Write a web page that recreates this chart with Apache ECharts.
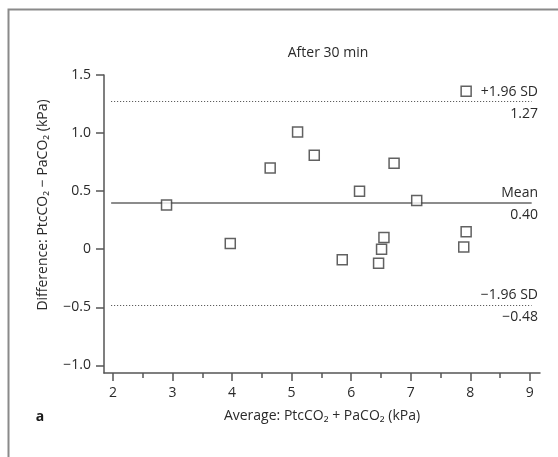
<!DOCTYPE html>
<html>
<head>
<meta charset="utf-8">
<script src="https://cdn.jsdelivr.net/npm/echarts@6/dist/echarts.min.js"></script>
<style>
  html, body { margin: 0; padding: 0; background: #fff; }
  #chart { width: 558px; height: 457px; }
</style>
</head>
<body>
<div id="chart"></div>
<script>
// Bland–Altman data: average vs difference of PtcCO2 and PaCO2 (kPa), after 30 min
const averages    = [2.90, 3.97, 4.64, 5.10, 5.38, 5.85, 6.14, 6.46, 6.51, 6.55, 6.72, 7.10, 7.89, 7.93, 7.93];
const differences = [0.38, 0.05, 0.70, 1.01, 0.81, -0.09, 0.50, -0.12, 0.00, 0.10, 0.74, 0.42, 0.02, 0.15, 1.36];

// Agreement statistics
const meanDiff   = 0.40;
const upperLimit = 1.27;
const lowerLimit = -0.48;

// Axis ticks
const xTicks      = [2, 3, 4, 5, 6, 7, 8, 9];
const xMinorTicks = [2.5, 3.5, 4.5, 5.5, 6.5, 7.5, 8.5];
const yTicks      = [-1.0, -0.5, 0, 0.5, 1.0, 1.5];

const X_MIN = 1.85, X_MAX = 9.17;
const Y_MIN = -1.066, Y_MAX = 1.5;
const LINE_START = 1.97, LINE_END = 9.03;

const FONT = '"Open Sans", "Noto Sans", sans-serif';
const FS = 14;
const TEXT = '#2a2a2a';
const AXIS = '#555';

const minus = s => s.replace('-', '\u2212');
const points = averages.map((a, i) => [a, differences[i]]);

const refLines = [
  { value: upperLimit, name: '+1.96 SD', dashed: true },
  { value: meanDiff,   name: 'Mean',     dashed: false },
  { value: lowerLimit, name: '\u22121.96 SD', dashed: true }
];

const chart = echarts.init(document.getElementById('chart'));

const baseX = {
  type: 'value', min: X_MIN, max: X_MAX, splitLine: { show: false }
};

chart.setOption({
  animation: false,
  title: {
    text: 'After 30 min',
    left: 323, top: 41, textAlign: 'center',
    textStyle: { fontFamily: FONT, fontSize: FS, fontWeight: 'normal', color: TEXT }
  },
  grid: { left: 104, right: 18, top: 75, bottom: 84 },
  xAxis: [
    Object.assign({}, baseX, {
      position: 'bottom',
      axisLine: { show: true, onZero: false, lineStyle: { color: AXIS, width: 1.5 } },
      axisTick: { show: true, customValues: xTicks, length: 8, lineStyle: { color: AXIS, width: 1.5 } },
      axisLabel: { customValues: xTicks, margin: 13, color: TEXT, fontSize: FS, fontFamily: FONT },
      name: 'Average: PtcCO\u2082 + PaCO\u2082 (kPa)',
      nameLocation: 'middle', nameGap: 36,
      nameTextStyle: { color: TEXT, fontSize: FS, fontFamily: FONT }
    }),
    Object.assign({}, baseX, {
      position: 'bottom',
      axisLine: { show: false, onZero: false },
      axisTick: { show: true, customValues: xMinorTicks, length: 5, lineStyle: { color: AXIS, width: 1.5 } },
      axisLabel: { show: false }
    })
  ],
  yAxis: {
    type: 'value', min: Y_MIN, max: Y_MAX,
    splitLine: { show: false },
    axisLine: { show: true, onZero: false, lineStyle: { color: AXIS, width: 1.5 } },
    axisTick: { show: true, customValues: yTicks, length: 8, lineStyle: { color: AXIS, width: 1.5 } },
    axisLabel: {
      customValues: yTicks, margin: 13, color: TEXT, fontSize: FS, fontFamily: FONT,
      formatter: v => (v === 0 ? '0' : minus(v.toFixed(1)))
    }
  },
  series: [{
    type: 'scatter',
    xAxisIndex: 0,
    data: points,
    symbol: 'rect',
    symbolSize: 10,
    itemStyle: { color: '#fff', borderColor: '#3a3a3a', borderWidth: 1.5 },
    z: 5,
    markLine: {
      silent: true,
      symbol: 'none',
      label: { show: false },
      data: refLines.map(r => [
        {
          coord: [LINE_START, r.value],
          lineStyle: r.dashed
            ? { type: [1, 2], color: '#444', width: 1 }
            : { type: 'solid', color: '#666', width: 1.5 }
        },
        { coord: [LINE_END, r.value] }
      ])
    }
  }]
});

// Reference-line captions and framing text
const labelRight = chart.convertToPixel({ gridIndex: 0 }, [X_MAX, 0])[0] - 2;
const graphics = [];
refLines.forEach(r => {
  const y = chart.convertToPixel({ gridIndex: 0 }, [LINE_END, r.value])[1];
  graphics.push({
    type: 'text', x: labelRight, y: y - 10,
    style: { text: r.name, align: 'right', verticalAlign: 'middle', fill: TEXT, font: FS + 'px ' + FONT }
  });
  graphics.push({
    type: 'text', x: labelRight, y: y + 12,
    style: { text: minus(r.value.toFixed(2)), align: 'right', verticalAlign: 'middle', fill: TEXT, font: FS + 'px ' + FONT }
  });
});

graphics.push({
  type: 'text', x: 43, y: 205, rotation: Math.PI / 2,
  style: {
    text: 'Difference: PtcCO\u2082 \u2212 PaCO\u2082 (kPa)',
    align: 'center', verticalAlign: 'middle', fill: TEXT, font: FS + 'px ' + FONT
  }
});
graphics.push({
  type: 'text', x: 40, y: 417,
  style: { text: 'a', align: 'center', verticalAlign: 'middle', fill: '#1a1a1a', font: 'bold ' + FS + 'px ' + FONT }
});
graphics.push({
  type: 'polyline',
  shape: { points: [[8.5, 457], [8.5, 9.5], [558, 9.5]] },
  style: { stroke: '#8a8a8a', lineWidth: 2, fill: null }
});

chart.setOption({ graphic: graphics });
</script>
</body>
</html>
